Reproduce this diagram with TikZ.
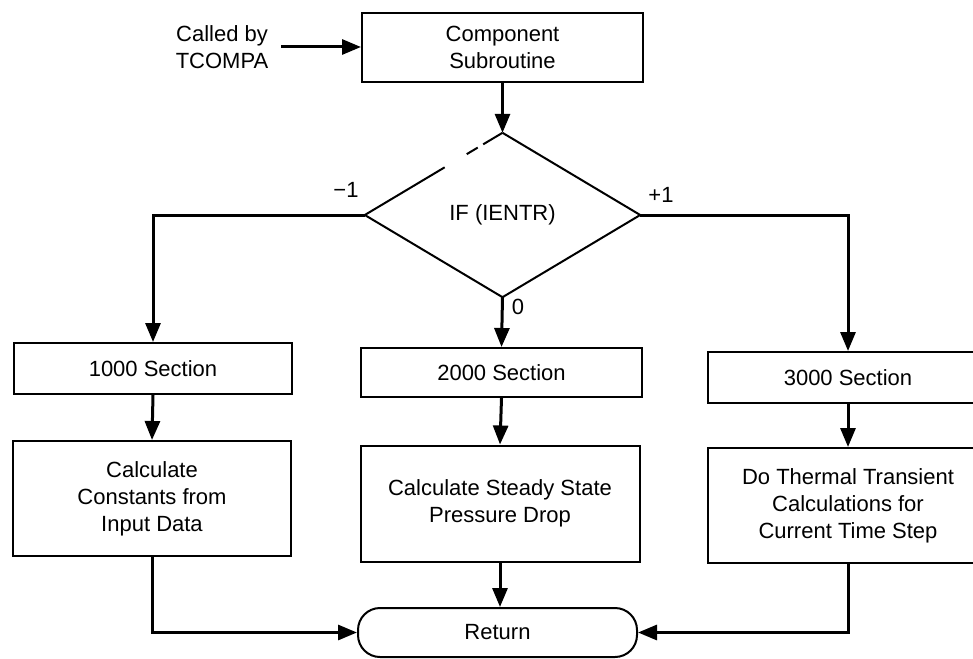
\documentclass[tikz,border=0pt]{standalone}
\usepackage{fontspec}
\setmainfont{Liberation Sans}
\usetikzlibrary{arrows.meta,shapes.geometric,calc}
\tikzset{
  box/.style={draw, line width=2pt, inner sep=0pt, align=center},
  conn/.style={line width=3pt, -{Triangle[length=19pt,width=15pt]}},
  lbl/.style={inner sep=0pt}
}
\begin{document}
\begin{tikzpicture}[x=1pt,y=-1pt, font=\fontsize{22}{27}\selectfont]
\useasboundingbox (0,0) rectangle (973,658);
\fill[white] (0,0) rectangle (973,658);
\clip (0,0) rectangle (973,658);
% nodes
\node[lbl, align=center] (called) at (222,47) {Called by\\TCOMPA};
\node[box, minimum width=281, minimum height=69] (comp) at (502.5,47.5) {Component\\Subroutine};
\node[diamond, minimum width=275, minimum height=164, inner sep=0pt] (d) at (502.5,215) {IF (IENTR)};
\node[box, minimum width=278, minimum height=51] (s1) at (153,368.5) {1000 Section};
\node[box, minimum width=281, minimum height=49] (s2) at (501.5,372.5) {2000 Section};
\node[box, minimum width=280, minimum height=51] (s3) at (848,377.5) {3000 Section};
\node[box, minimum width=278, minimum height=115] (c1) at (152,498.5) {Calculate\\Constants from\\Input Data};
\node[box, minimum width=279, minimum height=116] (c2) at (500,503.5) {Calculate Steady State\\Pressure Drop};
\node[box, minimum width=280, minimum height=115] (c3) at (848,505.5) {Do Thermal Transient\\Calculations for\\Current Time Step};
\node[box, rounded corners=22pt, minimum width=279, minimum height=49] (ret) at (497.5,632.5) {Return};
\node[lbl] (m1) at (346,190) {−1};
\node[lbl] (p1) at (661,195) {+1};
\node[lbl] (z) at (518,307) {0};
% diamond outline with broken upper-left edge
\draw[line width=2pt] (d.north) -- (d.east) -- (d.south) -- (d.west) -- ($(d.west)!0.58!(d.north)$);
\draw[line width=2pt] ($(d.west)!0.74!(d.north)$) -- ($(d.west)!0.82!(d.north)$);
\draw[line width=2pt] ($(d.west)!0.86!(d.north)$) -- (d.north);
% connectors
\draw[conn] ([xshift=13pt]called.east) -- (called.east -| comp.west);
\draw[conn] (comp.south) -- (d.north);
\draw[conn] (d.west) -| (s1.north);
\draw[conn] (d.east) -| (s3.north);
\draw[conn] (d.south) -- (s2.north);
\draw[conn] (s1.south) -- (c1.north);
\draw[conn] (s2.south) -- (c2.north);
\draw[conn] (s3.south) -- (c3.north);
\draw[conn] (c1.south) |- (ret.west);
\draw[conn] (c2.south) -- (c2.south |- ret.north);
\draw[conn] (c3.south) |- (ret.east);
\end{tikzpicture}
\end{document}
